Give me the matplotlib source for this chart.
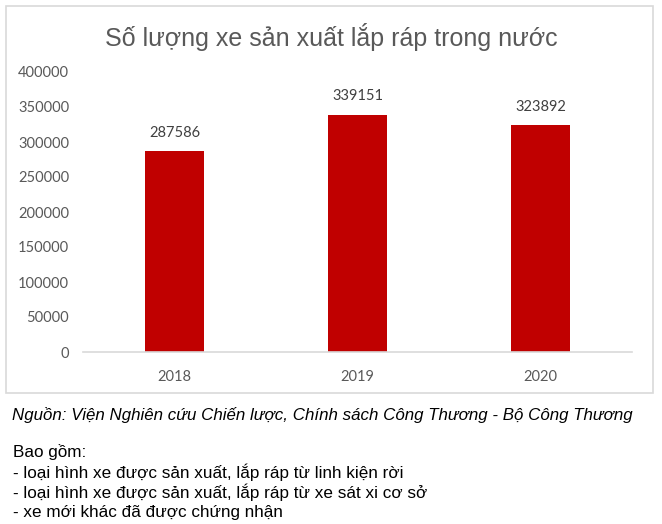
import matplotlib
matplotlib.use('Agg')
import matplotlib.pyplot as plt
from matplotlib.patches import Rectangle

# data
years = ['2018', '2019', '2020']
vehicles = [287586, 339151, 323892]
y_ticks = [0, 50000, 100000, 150000, 200000, 250000, 300000, 350000, 400000]

title = 'Số lượng xe sản xuất lắp ráp trong nước'
source = 'Nguồn: Viện Nghiên cứu Chiến lược, Chính sách Công Thương - Bộ Công Thương'
notes = ['Bao gồm:',
         '- loại hình xe được sản xuất, lắp ráp từ linh kiện rời',
         '- loại hình xe được sản xuất, lắp ráp từ xe sát xi cơ sở',
         '- xe mới khác đã được chứng nhận']

W, H = 662, 524
fig = plt.figure(figsize=(W / 100, H / 100), dpi=100)

# chart frame
fig.patches.append(Rectangle((6 / W, 1 - 393 / H), 647 / W, 387 / H,
                             transform=fig.transFigure, fill=False,
                             edgecolor='#D9D9D9', linewidth=1.2))

ax = fig.add_axes([83 / W, 1 - 352 / H, 549 / W, 280 / H])
x = range(len(years))
bars = ax.bar(x, vehicles, width=0.32, color='#C00000')
for xi, v in zip(x, vehicles):
    ax.annotate(str(v), (xi, v), xytext=(0, 8), textcoords='offset points',
                ha='center', va='bottom', fontsize=10.5, color='#404040',
                family=['Lato', 'DejaVu Sans'])

ax.set_xlim(-0.5, 2.5)
ax.set_ylim(0, 400000)
ax.set_xticks(list(x))
ax.set_xticklabels(years)
ax.set_yticks(y_ticks)
ax.set_yticklabels([str(t) for t in y_ticks])
ax.tick_params(axis='both', length=0, colors='#595959', labelsize=10.5)
ax.tick_params(axis='y', pad=10)
ax.tick_params(axis='x', pad=13)
for lab in ax.get_xticklabels() + ax.get_yticklabels():
    lab.set_family(['Lato', 'DejaVu Sans'])
for s in ['top', 'right', 'left']:
    ax.spines[s].set_visible(False)
ax.spines['bottom'].set_color('#D9D9D9')
ax.spines['bottom'].set_linewidth(1.2)

fig.text(331 / W, 1 - 37 / H, title, ha='center', va='center',
         fontsize=18, color='#595959', family=['Liberation Sans', 'DejaVu Sans'])

txt_font = ['Liberation Sans', 'DejaVu Sans']
fig.text(12 / W, 1 - 415 / H, source, ha='left', va='center', fontsize=12.2,
         style='italic', color='black', family=txt_font)
for i, line in enumerate(notes):
    yy = [452, 472, 492, 512][i]
    fig.text(13 / W, 1 - yy / H, line, ha='left', va='center', fontsize=12.3,
             color='black', family=txt_font)

fig.savefig('out.png', dpi=100)
